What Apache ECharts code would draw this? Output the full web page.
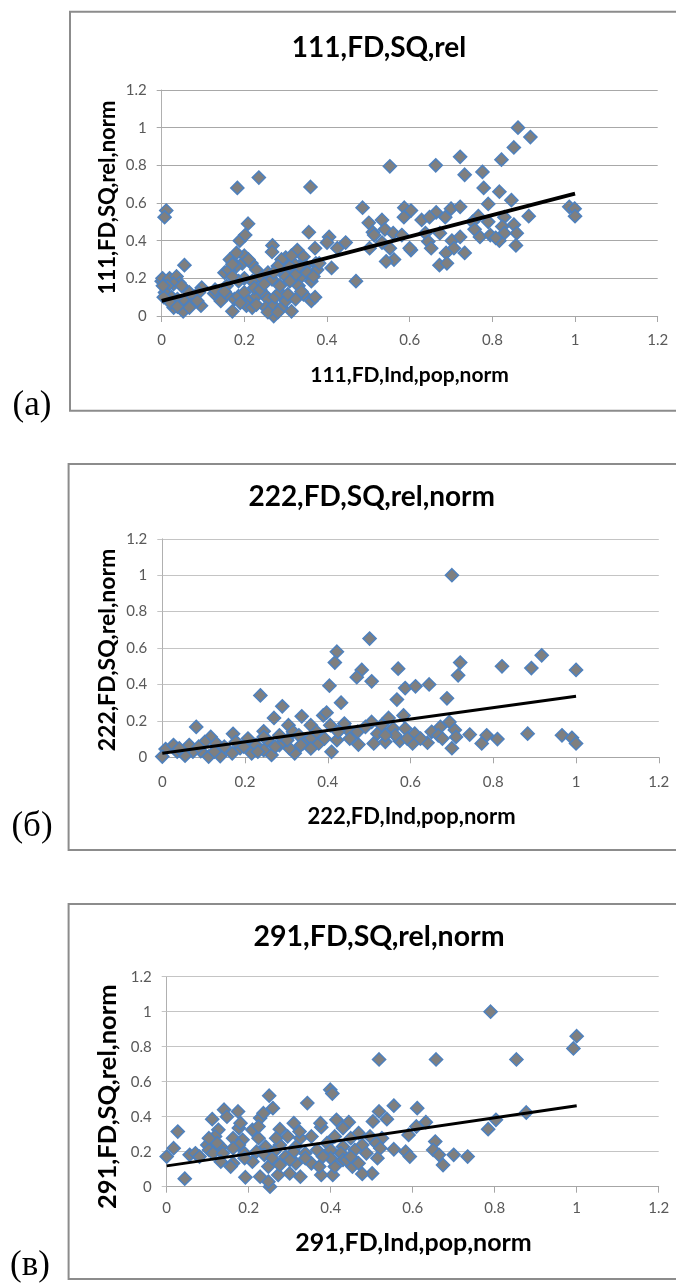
<!DOCTYPE html>
<html>
<head>
<meta charset="utf-8">
<script src="https://cdn.jsdelivr.net/npm/echarts@6/dist/echarts.min.js"></script>
<style>html,body{margin:0;padding:0;background:#fff}#c{width:676px;height:1284px}</style>
</head>
<body>
<div id="c"></div>
<script>
// ---- data ----
const titles = ['111,FD,SQ,rel', '222,FD,SQ,rel,norm', '291,FD,SQ,rel,norm'];
const yNames = ['111,FD,SQ,rel,norm', '222,FD,SQ,rel,norm', '291,FD,SQ,rel,norm'];
const xNames = ['111,FD,Ind,pop,norm', '222,FD,Ind,pop,norm', '291,FD,Ind,pop,norm'];
const panelLabels = ['(а)', '(б)', '(в)'];
const axisMin = 0, axisMax = 1.2, axisStep = 0.2;

const pointsA = [[0.862,1.0],[0.892,0.95],[0.852,0.895],[0.822,0.83],[0.722,0.845],[0.552,0.795],[0.663,0.80],[0.733,0.75],[0.776,0.765],[0.779,0.68],
[0.235,0.735],[0.183,0.68],[0.36,0.685],[0.817,0.66],[0.79,0.595],[0.846,0.615],[0.011,0.56],[0.007,0.525],[0.486,0.575],[0.587,0.575],
[0.603,0.56],[0.664,0.55],[0.70,0.57],[0.722,0.58],[0.766,0.53],[0.888,0.53],[0.986,0.58],[0.999,0.57],[1.0,0.53],[0.586,0.525],
[0.629,0.51],[0.648,0.525],[0.686,0.525],[0.533,0.51],[0.501,0.495],[0.209,0.49],[0.752,0.50],[0.79,0.50],[0.829,0.525],[0.824,0.475],
[0.852,0.485],[0.829,0.44],[0.356,0.445],[0.511,0.445],[0.514,0.43],[0.54,0.46],[0.56,0.44],[0.581,0.43],[0.638,0.44],[0.673,0.44],
[0.757,0.46],[0.77,0.42],[0.795,0.43],[0.859,0.44],[0.189,0.40],[0.202,0.43],[0.405,0.42],[0.40,0.39],[0.445,0.39],[0.425,0.36],
[0.503,0.36],[0.533,0.39],[0.552,0.36],[0.603,0.35],[0.645,0.395],[0.652,0.36],[0.702,0.40],[0.722,0.42],[0.707,0.36],[0.733,0.335],
[0.817,0.40],[0.808,0.415],[0.857,0.375],[0.688,0.335],[0.672,0.27],[0.69,0.28],[0.562,0.30],[0.543,0.29],[0.60,0.36],[0.268,0.375],
[0.328,0.35],[0.267,0.34],[0.30,0.31],[0.29,0.30],[0.343,0.315],[0.371,0.36],[0.373,0.28],[0.411,0.255],[0.055,0.27],[0.165,0.30],
[0.195,0.28],[0.217,0.28],[0.20,0.32],[0.181,0.265],[0.152,0.23],[0.162,0.245],[0.47,0.185],[0.376,0.245],[0.338,0.21],[0.324,0.22],
[0.362,0.185],[0.286,0.245],[0.257,0.23],[0.238,0.21],[0.219,0.185],[0.20,0.20],[0.186,0.185],[0.171,0.21],[0.157,0.16],[0.0,0.185],
[0.002,0.20],[0.019,0.20],[0.036,0.21],[0.043,0.175],[0.029,0.17],[0.014,0.16],[0.048,0.16],[0.097,0.15],[0.09,0.125],[0.127,0.12],
[0.067,0.125],[0.008,0.125],[0.024,0.10],[0.038,0.09],[0.057,0.08],[0.076,0.10],[0.095,0.055],[0.071,0.06],[0.029,0.045],[0.052,0.025],
[0.021,0.07],[0.171,0.025],[0.176,0.09],[0.157,0.115],[0.186,0.105],[0.20,0.125],[0.21,0.08],[0.205,0.055],[0.229,0.105],[0.248,0.115],
[0.224,0.15],[0.238,0.14],[0.257,0.09],[0.252,0.045],[0.271,0.0],[0.271,0.055],[0.274,0.10],[0.286,0.125],[0.29,0.045],[0.30,0.08],
[0.314,0.025],[0.324,0.09],[0.343,0.115],[0.362,0.08],[0.371,0.10],[0.331,0.16],[0.286,0.16],[0.267,0.195],[0.248,0.17],[0.219,0.045],
[0.19,0.07],[0.143,0.08],[0.129,0.14],[0.229,0.06],[0.257,0.02],[0.281,0.02],[0.305,0.115],[0.338,0.13],[0.348,0.265],[0.333,0.265],
[0.319,0.28],[0.31,0.265],[0.086,0.08],[0.067,0.045],[0.038,0.05],[0.005,0.10],[0.003,0.16],[0.152,0.13],[0.352,0.23],[0.367,0.21],
[0.381,0.28],[0.30,0.21],[0.31,0.185],[0.314,0.32],[0.281,0.265],[0.271,0.23],[0.229,0.245],[0.181,0.335],[0.171,0.275],[0.21,0.30]];

const pointsB = [[0.70,1.0],[0.501,0.652],[0.422,0.58],[0.417,0.52],[0.917,0.56],[0.821,0.50],[0.892,0.49],[1.0,0.48],[0.72,0.52],[0.715,0.45],
[0.57,0.487],[0.482,0.48],[0.47,0.44],[0.506,0.417],[0.404,0.393],[0.587,0.38],[0.612,0.39],[0.645,0.40],[0.567,0.317],[0.688,0.324],
[0.432,0.30],[0.237,0.34],[0.29,0.28],[0.337,0.225],[0.27,0.216],[0.389,0.23],[0.397,0.245],[0.082,0.167],[0.171,0.129],[0.245,0.143],
[0.305,0.176],[0.316,0.14],[0.44,0.185],[0.453,0.14],[0.506,0.194],[0.547,0.216],[0.583,0.23],[0.61,0.13],[0.672,0.167],[0.694,0.194],
[0.707,0.15],[0.743,0.125],[0.784,0.121],[0.81,0.10],[0.883,0.13],[0.966,0.121],[0.99,0.107],[1.0,0.076],[0.772,0.076],[0.70,0.05],
[0.641,0.08],[0.605,0.076],[0.574,0.09],[0.539,0.085],[0.511,0.076],[0.474,0.07],[0.422,0.094],[0.409,0.03],[0.378,0.076],[0.359,0.107],
[0.34,0.076],[0.32,0.022],[0.307,0.05],[0.283,0.067],[0.264,0.013],[0.245,0.04],[0.216,0.022],[0.188,0.05],[0.169,0.022],[0.14,0.007],
[0.112,0.004],[0.093,0.034],[0.074,0.031],[0.055,0.009],[0.036,0.031],[0.008,0.045],[0.0,0.004],[0.027,0.067],[0.065,0.067],[0.117,0.112],
[0.103,0.085],[0.131,0.076],[0.15,0.058],[0.207,0.103],[0.226,0.067],[0.254,0.094],[0.283,0.121],[0.302,0.094],[0.33,0.121],[0.359,0.176],
[0.373,0.14],[0.406,0.176],[0.425,0.14],[0.472,0.14],[0.491,0.167],[0.52,0.13],[0.53,0.176],[0.558,0.158],[0.563,0.121],[0.587,0.158],
[0.651,0.14],[0.667,0.121],[0.677,0.103],[0.71,0.112],[0.359,0.049],[0.245,0.112],[0.178,0.085],[0.041,0.049],[0.088,0.058],[0.126,0.031],
[0.197,0.058],[0.231,0.031],[0.273,0.058],[0.335,0.067],[0.392,0.103],[0.453,0.103],[0.539,0.121],[0.592,0.103],[0.624,0.103]];

const pointsC = [[0.79,1.0],[1.0,0.86],[0.992,0.79],[0.518,0.727],[0.657,0.727],[0.853,0.727],[0.399,0.554],[0.404,0.532],[0.25,0.52],[0.343,0.478],
[0.554,0.463],[0.259,0.449],[0.611,0.449],[0.14,0.44],[0.174,0.43],[0.518,0.43],[0.877,0.424],[0.147,0.40],[0.111,0.386],[0.228,0.392],
[0.236,0.42],[0.537,0.386],[0.503,0.373],[0.414,0.382],[0.444,0.369],[0.31,0.363],[0.377,0.34],[0.632,0.369],[0.609,0.344],[0.803,0.382],
[0.784,0.329],[0.027,0.315],[0.176,0.335],[0.126,0.325],[0.276,0.329],[0.209,0.325],[0.468,0.306],[0.59,0.296],[0.118,0.287],[0.162,0.277],
[0.185,0.268],[0.224,0.277],[0.295,0.287],[0.326,0.277],[0.353,0.287],[0.41,0.287],[0.449,0.277],[0.496,0.287],[0.525,0.277],[0.655,0.258],
[0.099,0.239],[0.132,0.229],[0.176,0.239],[0.241,0.229],[0.276,0.239],[0.315,0.229],[0.391,0.249],[0.43,0.229],[0.477,0.239],[0.511,0.249],
[0.0,0.172],[0.017,0.22],[0.056,0.182],[0.07,0.191],[0.103,0.21],[0.113,0.191],[0.137,0.191],[0.162,0.22],[0.19,0.191],[0.219,0.20],
[0.238,0.182],[0.262,0.20],[0.29,0.172],[0.31,0.20],[0.338,0.191],[0.367,0.21],[0.40,0.21],[0.425,0.191],[0.459,0.21],[0.487,0.191],
[0.521,0.22],[0.554,0.214],[0.583,0.20],[0.593,0.172],[0.65,0.21],[0.664,0.182],[0.70,0.182],[0.734,0.172],[0.674,0.124],[0.514,0.163],
[0.501,0.076],[0.477,0.073],[0.453,0.115],[0.43,0.153],[0.405,0.067],[0.377,0.067],[0.353,0.134],[0.326,0.057],[0.30,0.076],[0.272,0.067],
[0.252,0.0],[0.248,0.029],[0.228,0.057],[0.192,0.054],[0.044,0.046],[0.162,0.134],[0.132,0.143],[0.209,0.143],[0.248,0.115],[0.276,0.124],
[0.315,0.134],[0.372,0.115],[0.41,0.115],[0.439,0.153],[0.468,0.134],[0.08,0.172],[0.19,0.163],[0.30,0.153],[0.338,0.163],[0.40,0.163],
[0.156,0.115],[0.123,0.249],[0.103,0.277],[0.324,0.315],[0.224,0.344],[0.375,0.363],[0.43,0.335],[0.18,0.363],[0.267,0.277],[0.381,0.172],
[0.449,0.172],[0.257,0.163]];

// linear trend lines (end points)
const trendA = [[0, 0.08], [1, 0.65]];
const trendB = [[0, 0.022], [1, 0.335]];
const trendC = [[0, 0.119], [1, 0.463]];

// ---- layout ----
const grids = [
  {left: 161.7, top: 90, width: 496, height: 226},
  {left: 162.3, top: 538.8, width: 496.5, height: 218.5},
  {left: 166.7, top: 976.7, width: 492, height: 210}
];
const boxes = [
  {x: 70, y: 11.7, h: 399},
  {x: 68.6, y: 464, h: 386},
  {x: 68.6, y: 904, h: 375}
];
const xLabelMargin = [17, 17, 14];
const titlePos = [[379, 47.5, 28], [371.7, 497, 28], [379, 936.7, 28.5]];
const yNamePos = [[108, 197.5, 22], [108, 650, 23], [108, 1096.7, 25.5]];
const xNamePos = [[409.6, 375, 21], [411.5, 816.7, 22], [413.5, 1243, 25]];
const panelLabelPos = [[32, 406], [32, 827], [30, 1266]];
const lineWidths = [4, 3, 3];
const gridColor = ['#a8a8a8', '#c4c4c4', '#c4c4c4'];
const allPoints = [pointsA, pointsB, pointsC];
const trends = [trendA, trendB, trendC];

const FONT = 'Lato, "Open Sans", sans-serif';

const chart = echarts.init(document.getElementById('c'), null, {renderer: 'canvas'});

const graphic = [];
boxes.forEach(b => {
  graphic.push({type: 'rect', shape: {x: b.x, y: b.y, width: 700, height: b.h},
    style: {fill: 'none', stroke: '#8c8c8c', lineWidth: 2}, z: 0});
});
titles.forEach((t, i) => {
  graphic.push({type: 'text', x: titlePos[i][0], y: titlePos[i][1],
    style: {text: t, fontFamily: FONT, fontWeight: 'bold', fontSize: titlePos[i][2], fill: '#000',
      align: 'center', verticalAlign: 'middle'}, z: 10});
});
yNames.forEach((t, i) => {
  graphic.push({type: 'text', x: yNamePos[i][0], y: yNamePos[i][1], rotation: Math.PI / 2,
    style: {text: t, fontFamily: FONT, fontWeight: 'bold', fontSize: yNamePos[i][2], fill: '#000',
      align: 'center', verticalAlign: 'middle'}, z: 10});
});
xNames.forEach((t, i) => {
  graphic.push({type: 'text', x: xNamePos[i][0], y: xNamePos[i][1],
    style: {text: t, fontFamily: FONT, fontWeight: 'bold', fontSize: xNamePos[i][2], fill: '#000',
      align: 'center', verticalAlign: 'middle'}, z: 10});
});
panelLabels.forEach((t, i) => {
  graphic.push({type: 'text', x: panelLabelPos[i][0], y: panelLabelPos[i][1],
    style: {text: t, fontFamily: '"Liberation Serif", "DejaVu Serif", serif', fontSize: 35, fill: '#000',
      align: 'center', verticalAlign: 'middle'}, z: 10});
});

const option = {
  animation: false,
  backgroundColor: '#fff',
  grid: grids.map(g => Object.assign({outerBoundsMode: 'none', containLabel: false}, g)),
  xAxis: grids.map((g, i) => ({
    gridIndex: i, type: 'value', min: axisMin, max: axisMax, interval: axisStep,
    axisLine: {show: true, onZero: false, lineStyle: {color: '#a6a6a6', width: 1}},
    axisTick: {show: true, length: 6, inside: false, lineStyle: {color: '#a6a6a6'}},
    axisLabel: {margin: xLabelMargin[i], color: '#595959', fontFamily: FONT, fontSize: 15},
    splitLine: {show: false}
  })),
  yAxis: grids.map((g, i) => ({
    gridIndex: i, type: 'value', min: axisMin, max: axisMax, interval: axisStep,
    axisLine: {show: true, onZero: false, lineStyle: {color: '#b0b0b0', width: 1}},
    axisTick: {show: true, length: 5, inside: false, lineStyle: {color: gridColor[i]}},
    axisLabel: {margin: 15, color: '#595959', fontFamily: FONT, fontSize: 15},
    splitLine: {show: true, lineStyle: {color: gridColor[i], width: 1}}
  })),
  series: [].concat(
    allPoints.map((pts, i) => ({
      type: 'scatter', xAxisIndex: i, yAxisIndex: i, data: pts,
      symbol: 'diamond', symbolSize: 13,
      itemStyle: {color: '#7f7f7f', borderColor: '#4f81bd', borderWidth: 1.6, opacity: 1},
      emphasis: {disabled: true}, z: 2
    })),
    trends.map((tr, i) => ({
      type: 'line', xAxisIndex: i, yAxisIndex: i, data: tr, symbol: 'none',
      lineStyle: {color: '#000', width: lineWidths[i]}, z: 5, silent: true
    }))
  ),
  graphic: graphic
};
chart.setOption(option);
</script>
</body>
</html>
